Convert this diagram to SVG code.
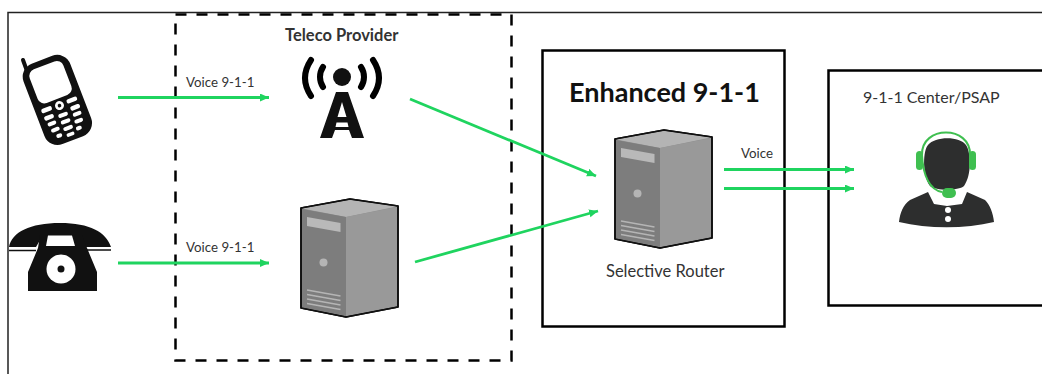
<svg xmlns="http://www.w3.org/2000/svg" width="1042" height="374" viewBox="0 0 1042 374">
<style>
text{font-family:"Lato","Open Sans","Liberation Sans",sans-serif;fill:#333}
.s{font-size:13.300px}
.box{fill:none;stroke:#000;stroke-width:2.5}
.c{fill:none;stroke:#1fd45f;stroke-width:2.8;marker-end:url(#a)}
.k{fill:#111}
.w{fill:#fff}
</style>
<defs>
<marker id="a" markerUnits="userSpaceOnUse" markerWidth="10" markerHeight="10" refX="9" refY="4" orient="auto"><path d="M0 0L9 4L0 8z" fill="#1fd45f"/></marker>
<g id="srv">
<path d="M301 208L350 199L398 206V307L346 317L301 308z" fill="#8f8f8f" stroke="#000" stroke-width="1.6" stroke-linejoin="round"/>
<path d="M302 208.500L350 200L397 206.500L346 217z" fill="#b4b4b4"/>
<path d="M302 209L346 217V316L302 307.500z" fill="#7d7d7d"/>
<path d="M346 217L397 207V306L346 316z" fill="#999"/>
<path d="M307 217L340.500 223V232L307 226z" fill="#b9b9b9"/>
<circle cx="323.500" cy="262.500" r="4" fill="#b5b5b5"/>
<path d="M307 290L340.500 296M307 294.500L340.500 300.500M307 299L340.500 305M307 303.500L340.500 309.500" stroke="#b5b5b5" stroke-width="1.400" fill="none"/>
<path d="M301 208L350 199L398 206V307L346 317L301 308z" fill="none" stroke="#111" stroke-width="1.500" stroke-linejoin="round"/>
</g>
</defs>
<rect width="1042" height="374" fill="#fff"/>
<path id="frame" d="M8 375V12.500H1042" fill="none" stroke="#222" stroke-width="1.500"/>
<g id="teleco">
<rect x="175.500" y="14.500" width="336" height="346" fill="none" stroke="#000" stroke-width="2.500" stroke-dasharray="11 10"/>
<text x="285" y="41" style="font-size:16.500px;font-weight:700">Teleco Provider</text>
</g>
<g id="cell-phone">
<path d="M23 60L31 82" stroke="#111" stroke-width="4" stroke-linecap="round" fill="none"/>
<g transform="rotate(-21 57 99)">
<rect x="32" y="57" width="50" height="86" rx="14" class="k"/>
<rect x="39" y="63" width="36" height="36" rx="7" class="w"/>
<circle cx="57" cy="106" r="4.500" class="w"/><circle cx="57" cy="106" r="1.800" class="k"/>
<g class="w">
<rect x="38" y="103" width="11" height="4.500" rx="2"/><rect x="65" y="103" width="11" height="4.500" rx="2"/>
<rect x="38" y="111" width="10" height="4.500" rx="2"/><rect x="52" y="114" width="10" height="4" rx="2"/><rect x="66" y="111" width="10" height="4.500" rx="2"/>
<rect x="39" y="118" width="9" height="4" rx="2"/><rect x="52" y="121" width="10" height="4" rx="2"/><rect x="66" y="118" width="9" height="4" rx="2"/>
<rect x="40" y="125" width="9" height="4" rx="2"/><rect x="52" y="128" width="10" height="4" rx="2"/><rect x="65" y="125" width="9" height="4" rx="2"/>
<rect x="43" y="132" width="6" height="4" rx="2"/><rect x="53" y="135" width="8" height="3.500" rx="1.500"/><rect x="64" y="132" width="6" height="4" rx="2"/>
</g>
</g>
</g>
<g id="desk-phone">
<path class="k" d="M9 247C12 232 30 223 60 223C90 223 106 232 111 247H86L80 235H43L36 247z"/>
<path d="M9 250.500H36M86 250H111" stroke="#111" stroke-width="1.500" fill="none"/>
<path class="k" d="M40 235H82L87 248L97 272V291H28V272L38 248z"/>
<path class="w" d="M48 235.500H72L75 246H46z"/>
<circle cx="61" cy="269" r="14.500" class="w"/><circle cx="61" cy="269" r="3.500" class="k"/>
</g>
<g id="tower">
<circle cx="342" cy="77" r="9" class="k"/>
<path d="M311 60C303 72 303 84 311 96M323 67C319 73 319 81 323 87M361 67C365 73 365 81 361 87M373 60C381 72 381 84 373 96" fill="none" stroke="#000" stroke-width="6" stroke-linecap="round"/>
<path class="k" fill-rule="evenodd" d="M336 92H348L364 138H352L349 130H335L332 138H320zM342 102L337.500 117H346.500zM336.500 122.500L335.500 127H348.500L347.500 122.500z"/>
</g>
<g id="provider-server"><use href="#srv"/></g>
<g id="enhanced-911">
<rect x="542.500" y="50.500" width="242" height="276" class="box"/>
<text x="569" y="102" style="font-size:27px;font-weight:700;fill:#111">Enhanced 9-1-1</text>
<use href="#srv" transform="translate(314 -69)"/>
<text x="606" y="277" style="font-size:16.500px">Selective Router</text>
</g>
<g id="psap">
<path d="M1042 70.500H828.500V305.500H1042" class="box"/>
<text x="863" y="103" style="font-size:16px">9-1-1 Center/PSAP</text>
<path d="M930 186C922 175 923 150 928 145C935 136 960 136 966 145C971 152 972 175 964 186C958 191 936 191 930 186z" fill="#2d2e2e"/>
<path d="M942 192C930 190 923 176 922 155C921 125 971 125 970 155" fill="none" stroke="#3fbf50" stroke-width="2"/>
<rect x="916" y="151" width="7" height="19" rx="3.500" fill="#3fbf50"/>
<rect x="969" y="151" width="7" height="19" rx="3.500" fill="#3fbf50"/>
<rect x="942" y="188" width="14" height="10" rx="5" fill="#3fbf50"/>
<path d="M928 192L934 204L947 206L962 204L967 192L985 200C990 205 993 213 994 222C965 229 928 229 899 222C900 213 903 205 910 200z" fill="#2d2e2e"/>
<circle cx="948" cy="210" r="3" class="w"/><circle cx="948" cy="219" r="3" class="w"/>
</g>
<g id="connectors">
<path class="c" d="M118 97.500H269"/>
<path class="c" d="M118 263H269"/>
<path class="c" d="M410 99L596 176"/>
<path class="c" d="M415 262L598 211"/>
<path class="c" d="M724 169.500H854"/>
<path class="c" d="M724 188.500H854"/>
</g>
<g id="connector-labels">
<text x="186" y="87" class="s">Voice 9-1-1</text>
<text x="186" y="252" class="s">Voice 9-1-1</text>
<text x="741" y="158" class="s">Voice</text>
</g>
</svg>
